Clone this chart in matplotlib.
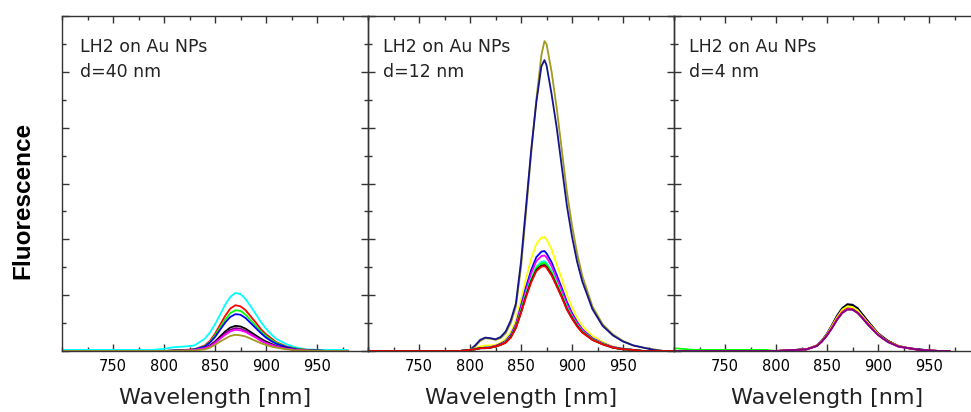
import matplotlib
matplotlib.use("Agg")
import matplotlib.pyplot as plt
from matplotlib.ticker import MultipleLocator, NullFormatter

# ---- data (fluorescence, arbitrary units) ----
# panel 1: d = 40 nm
wl1 = [700, 790, 800, 810, 820, 830, 840, 845, 850, 855, 860, 865, 870, 875,
       880, 885, 890, 895, 900, 905, 910, 920, 930, 940, 950, 960, 980]
p1_cyan = [0.02, 0.02, 0.04, 0.07, 0.08, 0.10, 0.22, 0.33, 0.48, 0.65, 0.83, 0.97, 1.04, 1.02,
           0.93, 0.80, 0.66, 0.52, 0.40, 0.30, 0.22, 0.12, 0.06, 0.03, 0.02, 0.02, 0.02]
p1_red = [0, 0, 0, 0.01, 0.02, 0.03, 0.10, 0.18, 0.31, 0.47, 0.63, 0.76, 0.82, 0.80,
          0.73, 0.62, 0.51, 0.39, 0.30, 0.23, 0.16, 0.08, 0.04, 0.02, 0.01, 0, 0]
p1_green = [0, 0, 0, 0.01, 0.01, 0.03, 0.09, 0.16, 0.28, 0.42, 0.56, 0.68, 0.73, 0.72,
            0.65, 0.55, 0.45, 0.35, 0.27, 0.20, 0.15, 0.07, 0.04, 0.01, 0.01, 0, 0]
p1_blue = [0, 0, 0, 0.01, 0.01, 0.03, 0.08, 0.15, 0.25, 0.38, 0.51, 0.61, 0.66, 0.65,
           0.59, 0.50, 0.41, 0.32, 0.24, 0.18, 0.13, 0.07, 0.03, 0.01, 0.01, 0, 0]
p1_black = [0, 0, 0, 0, 0.01, 0.02, 0.05, 0.10, 0.17, 0.26, 0.35, 0.42, 0.45, 0.44,
            0.40, 0.34, 0.28, 0.22, 0.17, 0.13, 0.09, 0.05, 0.02, 0.01, 0, 0, 0]
p1_purple = [0, 0, 0, 0, 0.01, 0.02, 0.05, 0.09, 0.16, 0.23, 0.32, 0.38, 0.41, 0.40,
             0.36, 0.31, 0.25, 0.20, 0.15, 0.11, 0.08, 0.04, 0.02, 0.01, 0, 0, 0]
p1_magenta = [0, 0, 0, 0, 0.01, 0.02, 0.05, 0.08, 0.14, 0.22, 0.29, 0.35, 0.38, 0.37,
              0.34, 0.29, 0.24, 0.18, 0.14, 0.11, 0.08, 0.04, 0.02, 0.01, 0, 0, 0]
p1_olive = [0, 0, 0, 0, 0.01, 0.01, 0.03, 0.06, 0.11, 0.17, 0.22, 0.27, 0.29, 0.28,
            0.26, 0.22, 0.18, 0.14, 0.11, 0.08, 0.06, 0.03, 0.01, 0.01, 0, 0, 0]

# panel 2: d = 12 nm
wl2 = [700, 790, 800, 805, 810, 815, 820, 825, 830, 835, 840, 845, 850, 855, 860, 865, 870, 873,
       875, 880, 885, 890, 895, 900, 905, 910, 920, 930, 940, 950, 960, 970, 980, 990, 1000]
p2_olive = [0, 0, 0.02, 0.08, 0.18, 0.23, 0.22, 0.20, 0.23, 0.32, 0.50, 0.80, 1.50, 2.50, 3.55, 4.50, 5.30, 5.55,
            5.50, 5.00, 4.35, 3.60, 2.85, 2.25, 1.75, 1.35, 0.80, 0.48, 0.30, 0.18, 0.10, 0.06, 0.03, 0, 0]
p2_navy = [0, 0, 0.02, 0.10, 0.20, 0.24, 0.23, 0.21, 0.25, 0.35, 0.55, 0.85, 1.60, 2.60, 3.60, 4.45, 5.10, 5.21,
           5.12, 4.60, 4.00, 3.30, 2.60, 2.05, 1.60, 1.25, 0.75, 0.45, 0.28, 0.17, 0.10, 0.06, 0.02, 0, 0]
p2_yellow = [0, 0, 0.02, 0.05, 0.08, 0.10, 0.10, 0.11, 0.15, 0.22, 0.34, 0.55, 0.92, 1.31, 1.65, 1.92, 2.03, 2.04,
             2.00, 1.82, 1.55, 1.29, 1.00, 0.78, 0.59, 0.45, 0.27, 0.16, 0.08, 0.04, 0.02, 0, 0, 0, 0]
p2_blue = [0, 0, 0.02, 0.04, 0.05, 0.06, 0.07, 0.09, 0.13, 0.18, 0.29, 0.48, 0.81, 1.15, 1.45, 1.68, 1.78, 1.79,
           1.75, 1.59, 1.36, 1.13, 0.88, 0.68, 0.52, 0.39, 0.23, 0.14, 0.07, 0.04, 0.02, 0, 0, 0, 0]
p2_magenta = [0, 0, 0.02, 0.03, 0.05, 0.06, 0.07, 0.09, 0.12, 0.17, 0.27, 0.46, 0.77, 1.09, 1.39, 1.61, 1.70, 1.71,
              1.68, 1.52, 1.30, 1.08, 0.84, 0.65, 0.50, 0.38, 0.22, 0.14, 0.07, 0.03, 0.02, 0, 0, 0, 0]
p2_cyan = [0, 0, 0.02, 0.03, 0.05, 0.06, 0.06, 0.08, 0.11, 0.16, 0.26, 0.43, 0.72, 1.03, 1.30, 1.51, 1.60, 1.61,
           1.58, 1.43, 1.22, 1.01, 0.79, 0.61, 0.47, 0.35, 0.21, 0.13, 0.06, 0.03, 0.02, 0, 0, 0, 0]
p2_green = [0, 0, 0.02, 0.03, 0.05, 0.06, 0.06, 0.08, 0.11, 0.16, 0.25, 0.43, 0.71, 1.01, 1.28, 1.49, 1.57, 1.58,
            1.55, 1.41, 1.20, 1.00, 0.77, 0.60, 0.46, 0.35, 0.21, 0.13, 0.06, 0.03, 0.02, 0, 0, 0, 0]
p2_black = [0, 0, 0.02, 0.03, 0.05, 0.05, 0.06, 0.08, 0.11, 0.15, 0.25, 0.42, 0.69, 0.99, 1.25, 1.45, 1.53, 1.54,
            1.51, 1.37, 1.17, 0.97, 0.75, 0.59, 0.45, 0.34, 0.20, 0.12, 0.06, 0.03, 0.02, 0, 0, 0, 0]
p2_red = [0, 0, 0.02, 0.03, 0.05, 0.05, 0.06, 0.08, 0.11, 0.15, 0.24, 0.41, 0.68, 0.97, 1.23, 1.43, 1.51, 1.52,
          1.49, 1.35, 1.16, 0.96, 0.74, 0.58, 0.44, 0.33, 0.20, 0.12, 0.06, 0.03, 0.02, 0, 0, 0, 0]

# panel 3: d = 4 nm
wl3 = [700, 720, 790, 800, 810, 820, 830, 840, 845, 850, 855, 860, 865, 870,
       875, 880, 885, 890, 895, 900, 905, 910, 920, 930, 940, 950, 960, 970]
p3_green = [0.05, 0.02, 0.02, 0, 0.01, 0.02, 0.03, 0.09, 0.17, 0.29, 0.43, 0.59, 0.71, 0.77,
            0.76, 0.70, 0.60, 0.49, 0.39, 0.30, 0.23, 0.16, 0.09, 0.05, 0.02, 0.01, 0, 0]
p3_navy = [0, 0, 0, 0, 0.01, 0.02, 0.03, 0.10, 0.19, 0.31, 0.47, 0.64, 0.77, 0.84,
           0.83, 0.77, 0.65, 0.54, 0.43, 0.32, 0.25, 0.18, 0.09, 0.05, 0.03, 0.01, 0, 0]
p3_black = [0, 0, 0, 0, 0.01, 0.02, 0.03, 0.10, 0.18, 0.31, 0.46, 0.63, 0.76, 0.83,
            0.82, 0.76, 0.65, 0.53, 0.42, 0.32, 0.24, 0.18, 0.09, 0.05, 0.03, 0.01, 0, 0]
p3_yellow = [0, 0, 0, 0, 0.01, 0.02, 0.03, 0.10, 0.18, 0.30, 0.45, 0.61, 0.74, 0.80,
             0.79, 0.73, 0.62, 0.51, 0.41, 0.31, 0.23, 0.17, 0.09, 0.05, 0.02, 0.01, 0, 0]
p3_red = [0, 0, 0, 0, 0.01, 0.02, 0.03, 0.09, 0.17, 0.28, 0.42, 0.58, 0.70, 0.76,
          0.75, 0.69, 0.59, 0.49, 0.39, 0.29, 0.22, 0.16, 0.08, 0.05, 0.02, 0.01, 0, 0]
p3_magenta = [0, 0, 0, 0, 0.01, 0.02, 0.03, 0.09, 0.17, 0.28, 0.42, 0.57, 0.69, 0.75,
              0.74, 0.68, 0.59, 0.48, 0.38, 0.29, 0.22, 0.16, 0.08, 0.05, 0.02, 0.01, 0, 0]
p3_purple = [0, 0, 0, 0, 0.01, 0.02, 0.03, 0.09, 0.17, 0.28, 0.41, 0.56, 0.68, 0.74,
             0.74, 0.68, 0.58, 0.47, 0.38, 0.29, 0.22, 0.16, 0.08, 0.05, 0.02, 0.01, 0, 0]

labels = ["LH2 on Au NPs\nd=40 nm", "LH2 on Au NPs\nd=12 nm", "LH2 on Au NPs\nd=4 nm"]

OLIVE = "#a09a1e"
NAVY = "#14148c"
PURPLE = "#800080"
panels = [
    (wl1, [(p1_cyan, "#00ffff"), (p1_red, "#ff0000"), (p1_green, "#00ff00"), (p1_blue, "#0000ff"),
           (p1_black, "#000000"), (p1_purple, PURPLE), (p1_magenta, "#ff00ff"), (p1_olive, OLIVE)]),
    (wl2, [(p2_olive, OLIVE), (p2_navy, NAVY), (p2_yellow, "#ffff00"), (p2_blue, "#0000ff"),
           (p2_magenta, "#ff00ff"), (p2_cyan, "#00ffff"), (p2_green, "#00ff00"),
           (p2_black, "#000000"), (p2_red, "#ff0000")]),
    (wl3, [(p3_green, "#00ff00"), (p3_navy, NAVY), (p3_black, "#000000"), (p3_yellow, "#ffff00"),
           (p3_red, "#ff0000"), (p3_magenta, "#ff00ff"), (p3_purple, PURPLE)]),
]

W, H = 971, 412
fig = plt.figure(figsize=(W / 100, H / 100), dpi=100)

# axes boxes in pixels (the third one runs off the right edge, as in the original)
lefts = [62, 368, 674]
text_x = [80, 383, 689]
ax_w = 306
top, bottom = 16, 351

for i, (wl, curves) in enumerate(panels):
    ax = fig.add_axes([lefts[i] / W, (H - bottom) / H, ax_w / W, (bottom - top) / H])
    ax.patch.set_alpha(0)
    for vals, col in curves:
        ax.plot(wl, vals, color=col, lw=1.3)
    ax.set_xlim(700, 1000)
    ax.set_ylim(0, 6)
    ax.xaxis.set_major_locator(MultipleLocator(50))
    ax.xaxis.set_minor_locator(MultipleLocator(25))
    ax.yaxis.set_major_locator(MultipleLocator(1))
    ax.yaxis.set_minor_locator(MultipleLocator(0.5))
    ax.set_xticks([750, 800, 850, 900, 950])
    ax.yaxis.set_major_formatter(NullFormatter())
    ax.tick_params(which="both", direction="in", top=True, right=True, color="#333333", width=1.0)
    ax.tick_params(which="major", length=5, labelsize=10.5, pad=6)
    ax.tick_params(which="minor", length=3)
    for s in ax.spines.values():
        s.set_color("#333333")
        s.set_linewidth(1.0)
    ax.set_xlabel("Wavelength [nm]", fontsize=16, labelpad=10, color="#222222")
    tx = (text_x[i] - lefts[i]) / ax_w
    l1, l2 = labels[i].split("\n")
    ax.text(tx, (bottom - 52) / (bottom - top), l1, transform=ax.transAxes,
            fontsize=12.5, va="baseline", ha="left", color="#222222")
    ax.text(tx, (bottom - 77) / (bottom - top), l2, transform=ax.transAxes,
            fontsize=12.5, va="baseline", ha="left", color="#222222")

fig.text(23 / W, 1 - 200 / H, "Fluorescence", rotation=90, ha="center", va="center",
         fontsize=17.5, fontweight="bold", family="Liberation Sans")

fig.savefig("out.png", dpi=100)
